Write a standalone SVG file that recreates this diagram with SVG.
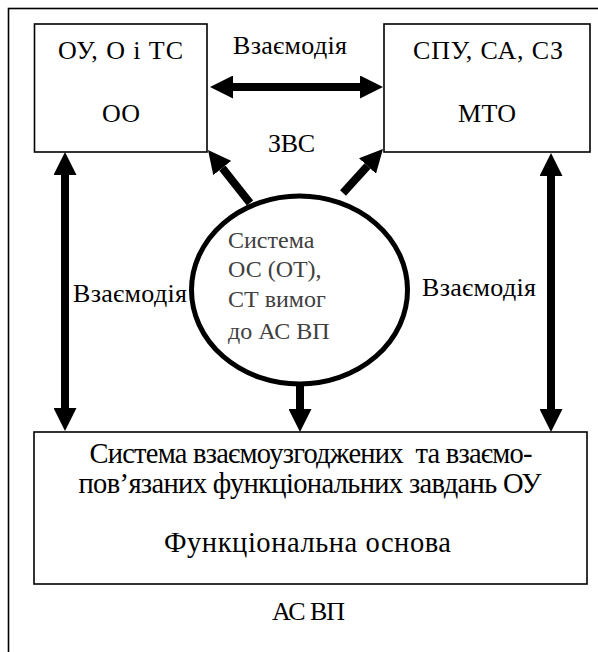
<svg xmlns="http://www.w3.org/2000/svg" width="598" height="652" viewBox="0 0 598 652">
<defs>
<style>
.box{fill:#fff;stroke:#000;stroke-width:1.6}
.t{font-family:"Liberation Serif","Times New Roman",serif;font-size:26px;fill:#000;text-anchor:middle}
.b{font-size:28.5px}
.g{fill:#404040;text-anchor:start;font-size:24px}
.arr{stroke:#000;stroke-width:8;fill:none}
</style>
<marker id="ah" markerUnits="userSpaceOnUse" viewBox="0 0 23 23" markerWidth="23" markerHeight="23" refX="0" refY="11.5" orient="auto-start-reverse">
<path d="M0,0 L23,11.5 L0,23 z" fill="#000"/>
</marker>
</defs>
<rect x="8.5" y="8.5" width="620" height="680" fill="#fff" stroke="#000" stroke-width="1.6"/>
<g id="box-ou">
<rect class="box" x="34.5" y="24" width="172.5" height="128"/>
<text class="t" x="120.5" y="59" textLength="125">ОУ, О і ТС</text>
<text class="t" x="121" y="122" textLength="38">ОО</text>
</g>
<g id="box-spu">
<rect class="box" x="384" y="24" width="206" height="128"/>
<text class="t" x="488" y="59" textLength="150">СПУ, СА, СЗ</text>
<text class="t" x="487" y="122" textLength="58">МТО</text>
</g>
<g id="box-func">
<rect class="box" x="34" y="432" width="553" height="152"/>
<text class="t b" x="311" y="463" textLength="443" xml:space="preserve">Система взаємоузгоджених  та взаємо-</text>
<text class="t b" x="310" y="493" textLength="463">пов’язаних функціональних завдань ОУ</text>
<text class="t b" x="307.5" y="552" textLength="287">Функціональна основа</text>
</g>
<g id="system">
<ellipse cx="299.5" cy="290" rx="108" ry="94" fill="#fff" stroke="#000" stroke-width="5"/>
<text class="t g" x="228" y="248">Система</text>
<text class="t g" x="228" y="277">ОС (ОТ),</text>
<text class="t g" x="228" y="307">СТ вимог</text>
<text class="t g" x="228" y="339">до АС ВП</text>
</g>
<g id="connectors">
<line class="arr" x1="233" y1="87" x2="360" y2="87" marker-start="url(#ah)" marker-end="url(#ah)"/>
<line class="arr" x1="65" y1="175" x2="65" y2="408" marker-start="url(#ah)" marker-end="url(#ah)"/>
<line class="arr" x1="551" y1="176" x2="551" y2="409" marker-start="url(#ah)" marker-end="url(#ah)"/>
<line class="arr" x1="300" y1="386" x2="300" y2="409" marker-end="url(#ah)"/>
<line class="arr" x1="250" y1="203" x2="222.3" y2="168" marker-end="url(#ah)"/>
<line class="arr" x1="343" y1="193" x2="367.5" y2="166" marker-end="url(#ah)"/>
</g>
<g id="labels">
<text class="t" x="290" y="54" textLength="114">Взаємодія</text>
<text class="t" x="291.5" y="152" textLength="47">ЗВС</text>
<text class="t" x="130" y="302" textLength="114">Взаємодія</text>
<text class="t" x="479" y="296" textLength="114">Взаємодія</text>
<text class="t" x="308.5" y="620" textLength="73">АС ВП</text>
</g>
</svg>
